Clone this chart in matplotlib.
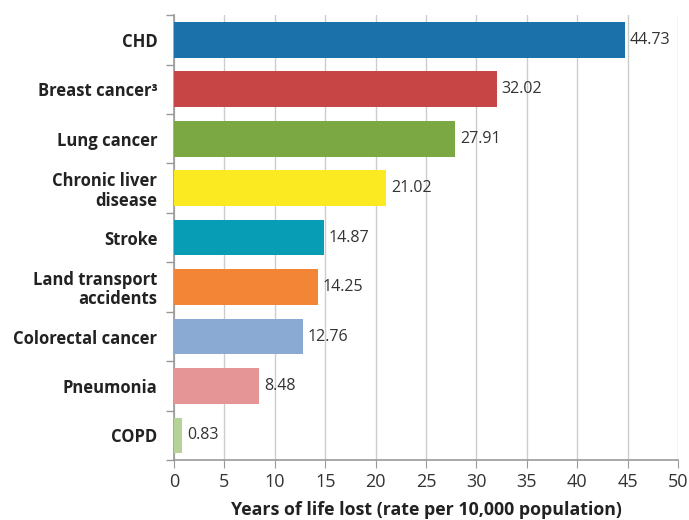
import matplotlib.pyplot as plt
import numpy as np

causes = ["CHD", "Breast cancer³", "Lung cancer", "Chronic liver\ndisease", "Stroke",
          "Land transport\naccidents", "Colorectal cancer", "Pneumonia", "COPD"]
values = [44.73, 32.02, 27.91, 21.02, 14.87, 14.25, 12.76, 8.48, 0.83]
colors = ["#1B72AA", "#C84545", "#7BA843", "#FBE921", "#069DB5",
          "#F38536", "#8AA9D3", "#E69597", "#B5D298"]

plt.rcParams['font.family'] = ['Open Sans', 'DejaVu Sans']

fig = plt.figure(figsize=(6.89, 5.2), dpi=100)
ax = fig.add_axes([0.2525, 0.115, 0.7315, 0.856])

y = np.arange(len(causes))
ax.barh(y, values, height=0.72, color=colors, zorder=3)
for yi, v in zip(y, values):
    ax.text(v + 0.5, yi, f"{v:.2f}", va='center', ha='left', fontsize=11.5, color='#333333')

ax.set_xlim(0, 50)
ax.set_ylim(len(causes) - 0.5, -0.5)
ax.set_xticks(np.arange(0, 51, 5))
ax.set_yticks(np.arange(-0.5, len(causes), 1))
ax.set_yticklabels([])
ax.set_yticks(y, minor=True)
ax.set_yticklabels(causes, minor=True, fontsize=12, fontweight='bold', color='#222222',
                   linespacing=1.1)
ax.tick_params(axis='y', which='minor', length=0, pad=12)
ax.tick_params(axis='y', which='major', length=6, color='#999999', width=1)
ax.tick_params(axis='x', length=6, color='#999999', labelsize=13, labelcolor='#333333')
ax.grid(axis='x', color='#cccccc', linewidth=1, zorder=0)

for s in ['top', 'right']:
    ax.spines[s].set_visible(False)
for s in ['left', 'bottom']:
    ax.spines[s].set_color('#999999')
    ax.spines[s].set_linewidth(1.2)

ax.set_xlabel("Years of life lost (rate per 10,000 population)", fontsize=12.8,
              fontweight='bold', color='#222222', labelpad=7)

fig.savefig("out.png", dpi=100)
